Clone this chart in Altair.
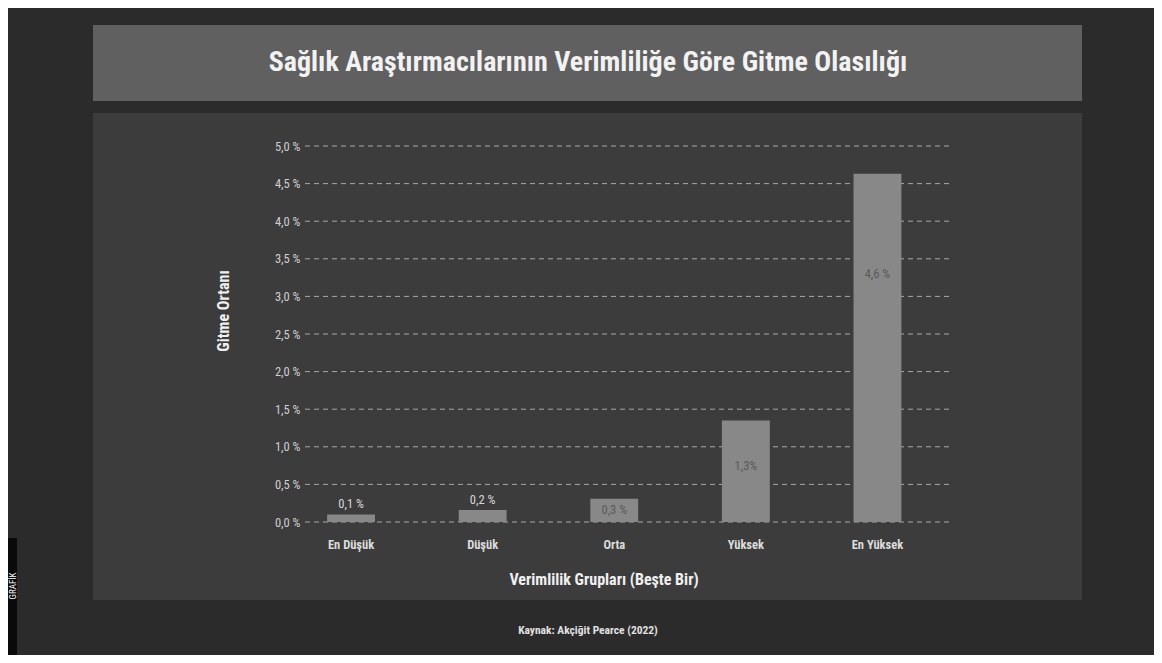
import altair as alt
import pandas as pd

# ---- data ----
groups = ["En Düşük", "Düşük", "Orta", "Yüksek", "En Yüksek"]
values = [0.1, 0.16, 0.31, 1.35, 4.63]
value_labels = ["0,1 %", "0,2 %", "0,3 %", "1,3%", "4,6 %"]
label_inside = [False, False, True, True, True]
y_ticks = [0.0, 0.5, 1.0, 1.5, 2.0, 2.5, 3.0, 3.5, 4.0, 4.5, 5.0]

title_text = "Sağlık Araştırmacılarının Verimliliğe Göre Gitme Olasılığı"
y_title = "Gitme Ortanı"
x_title = "Verimlilik Grupları (Beşte Bir)"
source_text = "Kaynak: Akçiğit Pearce (2022)"
side_text = "GRAFİK"

FONT = "Roboto Condensed, Roboto, sans-serif"

df = pd.DataFrame({
    "group": groups,
    "value": values,
    "label": value_labels,
    "inside": label_inside,
})
grid_df = pd.DataFrame({"tick": y_ticks})

W, H = 648, 376

x_scale = alt.Scale(domain=groups, paddingInner=0.636, paddingOuter=0.28, align=0.3)
y_scale = alt.Scale(domain=[0, 5], nice=False)

y_axis = alt.Axis(
    title=None, values=y_ticks, domain=False, ticks=False, grid=False,
    labelExpr="replace(format(datum.value, '.1f'), '.', ',') + ' %'",
    labelColor="#cfcfcf", labelFont=FONT, labelFontSize=12.5,
    labelOverlap=False, labelPadding=5, zindex=1)
x_axis = alt.Axis(title=None, domain=False, ticks=False, labelAngle=0,
                  labelColor="#dcdcdc", labelFont=FONT, labelFontSize=12.5,
                  labelFontWeight="bold", labelPadding=16, zindex=1)

one = pd.DataFrame({"k": [0]})

# decorative panels
panel = alt.Chart(one).mark_rect(color="#3c3c3c").encode(
    x=alt.value(-212), x2=alt.value(777), y=alt.value(-33), y2=alt.value(454)
)
title_box = alt.Chart(one).mark_rect(color="#606060").encode(
    x=alt.value(-212), x2=alt.value(777), y=alt.value(-121), y2=alt.value(-45)
)
side_box = alt.Chart(one).mark_rect(color="#0a0a0a").encode(
    x=alt.value(-297), x2=alt.value(-288), y=alt.value(392), y2=alt.value(520)
)
side_label = alt.Chart(one).mark_text(
    text=side_text, font=FONT, fontSize=9, color="#ffffff", angle=270,
    align="center", baseline="middle"
).encode(x=alt.value(-292.5), y=alt.value(440))

grid = alt.Chart(grid_df).mark_rule(
    color="#a8a8a8", strokeDash=[5, 4], strokeWidth=1
).encode(
    y=alt.Y("tick:Q", scale=y_scale, axis=y_axis),
    x=alt.value(0), x2=alt.value(W),
)

bars = alt.Chart(df).mark_bar(color="#888888").encode(
    x=alt.X("group:N", scale=x_scale, sort=groups, axis=x_axis),
    y=alt.Y("value:Q", scale=y_scale, axis=y_axis),
)

outside_labels = alt.Chart(df).transform_filter("!datum.inside").mark_text(
    font=FONT, fontSize=12.5, color="#d8d8d8", baseline="middle", dy=-10
).encode(
    x=alt.X("group:N", scale=x_scale, sort=groups, axis=x_axis),
    y=alt.Y("value:Q", scale=y_scale, axis=y_axis),
    text="label:N",
)

inside_labels = alt.Chart(df).transform_filter("datum.inside").transform_calculate(
    pos="0.05*datum.value*datum.value + 0.48*datum.value"
).mark_text(
    font=FONT, fontSize=12.5, color="#5a5a5a", baseline="middle"
).encode(
    x=alt.X("group:N", scale=x_scale, sort=groups, axis=x_axis),
    y=alt.Y("pos:Q", scale=y_scale, axis=y_axis),
    text="label:N",
)

title_mark = alt.Chart(one).mark_text(
    text=title_text, font=FONT, fontSize=28, fontWeight="bold", color="#f2f2f2",
    align="center", baseline="middle"
).encode(x=alt.value(283), y=alt.value(-83))

ytitle_mark = alt.Chart(one).mark_text(
    text=y_title, font=FONT, fontSize=16, fontWeight="bold", color="#f0f0f0",
    angle=270, align="center", baseline="middle"
).encode(x=alt.value(-81), y=alt.value(165))

xtitle_mark = alt.Chart(one).mark_text(
    text=x_title, font=FONT, fontSize=16, fontWeight="bold", color="#f0f0f0",
    align="center", baseline="middle"
).encode(x=alt.value(299), y=alt.value(434))

source_mark = alt.Chart(one).mark_text(
    text=source_text, font=FONT, fontSize=11.5, fontWeight="bold", color="#e0e0e0",
    align="center", baseline="middle"
).encode(x=alt.value(283), y=alt.value(485))

chart = alt.layer(
    panel, title_box, side_box, side_label, grid, bars,
    outside_labels, inside_labels, title_mark, ytitle_mark, xtitle_mark, source_mark
).resolve_scale(y="shared", x="shared").properties(
    width=W, height=H,
    autosize=alt.AutoSizeParams(type="none"),
    padding={"left": 297, "top": 138, "right": 201, "bottom": 133},
    background="#2b2b2b",
).configure_view(stroke=None, fill=None)

chart.save("out.html", embed_options={"renderer": "svg", "actions": False})
